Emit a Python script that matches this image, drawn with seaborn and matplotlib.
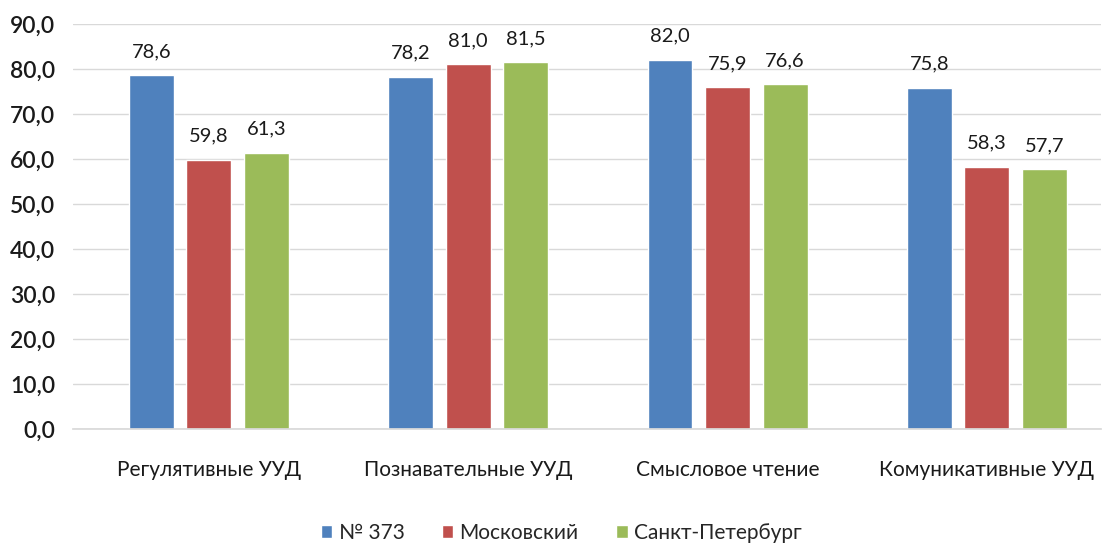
import matplotlib
matplotlib.use("Agg")
import matplotlib.pyplot as plt
import seaborn as sns
import pandas as pd
from matplotlib.ticker import FuncFormatter, MultipleLocator

categories = ["Регулятивные УУД", "Познавательные УУД", "Смысловое чтение", "Комуникативные УУД"]
series_names = ["№ 373", "Московский", "Санкт-Петербург"]
s373 = [78.6, 78.2, 82.0, 75.8]
moscow = [59.8, 81.0, 75.9, 58.3]
spb = [61.3, 81.5, 76.6, 57.7]
colors = ["#4F81BD", "#C0504D", "#9BBB59"]

df = pd.DataFrame({
    "cat": categories * 3,
    "series": [series_names[0]] * 4 + [series_names[1]] * 4 + [series_names[2]] * 4,
    "value": s373 + moscow + spb,
})

sns.set_theme(style="white")
plt.rcParams["font.family"] = ["Lato", "DejaVu Sans"]

fig = plt.figure(figsize=(11.07, 5.45), dpi=100)
ax = fig.add_axes([0.066, 0.2128, 0.9286, 0.7432])

sns.barplot(data=df, x="cat", y="value", hue="series", order=categories,
            hue_order=series_names, palette=colors, width=0.666, gap=0.22,
            saturation=1, ax=ax, legend=True)

for cont in ax.containers:
    ax.bar_label(cont, labels=[f"{v:.1f}".replace(".", ",") for v in cont.datavalues],
                 padding=11, fontsize=14.5, color="#1a1a1a")

ax.set_ylim(0, 90)
ax.set_xlim(-0.524, 3.44)
ax.yaxis.set_major_locator(MultipleLocator(10))
ax.yaxis.set_major_formatter(FuncFormatter(lambda v, p: f"{v:.1f}".replace(".", ",")))
ax.grid(axis="y", color="#D9D9D9", linewidth=1)
ax.set_axisbelow(True)
for s in ["left", "right", "top"]:
    ax.spines[s].set_visible(False)
ax.spines["bottom"].set_color("#D9D9D9")
ax.tick_params(axis="y", labelsize=16.5, pad=13, length=0, colors="#1a1a1a")
for t in ax.get_yticklabels():
    t.set_fontweight("semibold")
ax.tick_params(axis="x", labelsize=15, pad=22, length=0, colors="#1a1a1a")
ax.set_xlabel("")
ax.set_ylabel("")

handles, labels = ax.get_legend_handles_labels()
ax.get_legend().remove()
fig.legend(handles, labels, loc="center", bbox_to_anchor=(0.507, 0.022), ncol=3,
           frameon=False, fontsize=15, handlelength=0.55, handleheight=0.55,
           handletextpad=0.3, columnspacing=1.8)

fig.savefig("out.png", dpi=100)
